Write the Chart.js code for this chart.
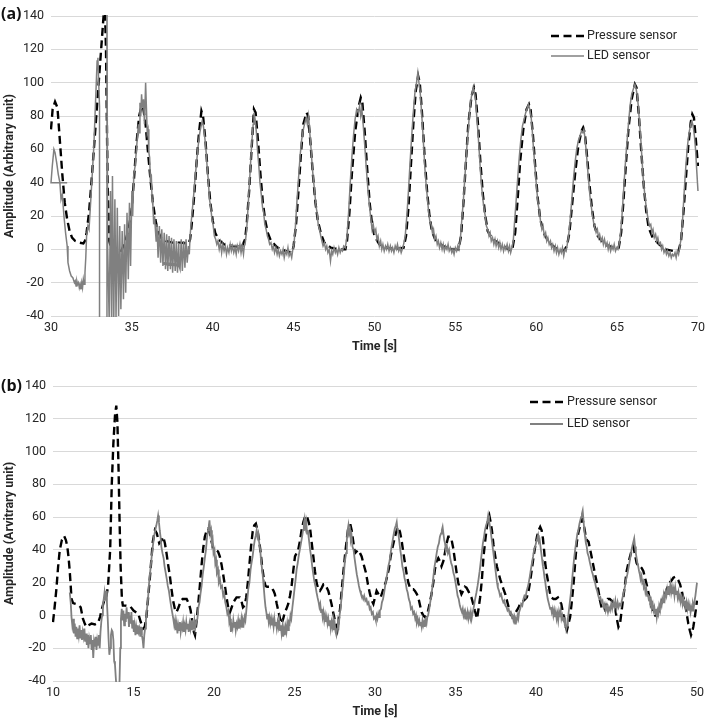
<!DOCTYPE html>
<html>
<head>
<meta charset="utf-8">
<script src="https://cdn.jsdelivr.net/npm/chart.js@4.4.1/dist/chart.umd.min.js"></script>
<style>
  body{ margin:0; background:#fff; }
  #wrap{ position:relative; width:709px; height:720px; }
  .panel{ position:absolute; left:0; }
  .tag{ position:absolute; font:bold 16px "Open Sans", sans-serif; color:#111; }
</style>
</head>
<body>
<div id="wrap">
  <div class="panel" style="top:0"><canvas id="chartA" width="709" height="356"></canvas></div>
  <div class="panel" style="top:360px"><canvas id="chartB" width="709" height="360"></canvas></div>
  <div class="tag" style="left:1px;top:2px">(a)</div>
  <div class="tag" style="left:1px;top:374px">(b)</div>
</div>
<script>
// ===== data: [time s, amplitude] =====
// panel (a)
const pressureA = [[30,72],[30.1,84],[30.25,88.5],[30.4,85],[30.55,65],[30.7,45],[30.85,28],[31,18],[31.15,11],[31.3,7],[31.5,5],[31.75,4],[32,3.5],[32.1,5],[32.2,10],[32.35,22],[32.5,40],[32.65,60],[32.8,80],[32.95,100],[33.1,120],[33.25,140],[33.32,150],[33.4,120],[33.45,80],[33.5,40],[33.6,5],[33.8,-2],[34,-3],[34.3,-2],[34.6,5],[34.8,12],[35,25],[35.15,45],[35.3,65],[35.45,80],[35.6,86],[35.7,85],[35.85,75],[36,58],[36.15,42],[36.3,28],[36.45,18],[36.6,11],[36.8,7],[37.1,5],[37.5,4],[38,4],[38.5,3.5],[38.6,6],[38.7,15],[38.85,32],[39,52],[39.15,70],[39.3,83],[39.4,80],[39.55,65],[39.7,45],[39.85,28],[40,17],[40.15,10],[40.35,6],[40.7,3],[41.2,2],[41.8,1.5],[42,6],[42.1,15],[42.25,35],[42.4,60],[42.55,84],[42.65,82],[42.8,65],[42.95,45],[43.1,28],[43.25,17],[43.4,10],[43.6,5],[44,1],[44.5,-1],[44.9,-2],[45,2],[45.15,15],[45.3,35],[45.45,57],[45.6,75],[45.8,82],[45.9,80],[46.05,63],[46.2,44],[46.35,28],[46.5,17],[46.7,9],[46.9,4],[47.3,1],[47.8,0],[48.2,0],[48.3,5],[48.45,22],[48.6,45],[48.8,70],[49,85],[49.15,91],[49.25,88],[49.4,70],[49.55,48],[49.7,28],[49.85,15],[50,8],[50.3,3],[50.8,1],[51.3,0],[51.8,1],[51.95,8],[52.1,25],[52.25,50],[52.4,75],[52.55,95],[52.7,104],[52.8,100],[52.95,80],[53.1,55],[53.25,35],[53.4,20],[53.55,11],[53.75,6],[54.2,2],[54.8,0],[55.2,0],[55.35,8],[55.5,28],[55.65,52],[55.8,75],[56,92],[56.15,97],[56.25,93],[56.4,75],[56.55,52],[56.7,33],[56.85,20],[57,11],[57.3,6],[57.8,3],[58.3,0],[58.5,-1],[58.7,10],[58.85,30],[59,52],[59.2,72],[59.4,84],[59.55,87],[59.65,84],[59.8,68],[59.95,48],[60.1,30],[60.25,18],[60.45,10],[60.8,4],[61.3,0],[61.7,-1],[61.9,2],[62.05,10],[62.2,25],[62.4,45],[62.6,62],[62.8,71],[62.9,73],[63,70],[63.15,55],[63.3,38],[63.45,24],[63.6,14],[63.8,8],[64.2,3],[64.8,1],[65.1,1],[65.25,10],[65.4,30],[65.55,52],[65.7,72],[65.9,90],[66.1,99],[66.2,97],[66.35,80],[66.5,58],[66.65,38],[66.8,23],[66.95,13],[67.2,7],[67.6,3],[68,0],[68.5,-1],[68.8,-1],[68.95,5],[69.1,22],[69.25,42],[69.4,62],[69.55,76],[69.65,81],[69.75,79],[69.85,68],[70,50]];

const ledA = [[31,40],[30,40],[30.08,50],[30.18,60],[30.25,58],[30.35,52],[30.45,45],[30.55,40],[30.62,30],[30.7,33],[30.8,20],[30.9,10],[31,2],[31.05,-8],[31.15,-13],[31.25,-16],[31.35,-17],[31.45,-20],[31.5,-19],[31.55,-22],[31.6,-19],[31.65,-21],[31.7,-20],[31.75,-23],[31.8,-21],[31.85,-24],[31.9,-20],[31.95,-23],[32,-18],[32.05,-21],[32.1,-14],[32.15,-5],[32.2,8],[32.28,14],[32.35,12],[32.45,28],[32.55,45],[32.65,62],[32.72,80],[32.8,100],[32.85,113],[32.9,115],[32.95,100],[33,86],[33,-60],[33.45,-60],[33.46,160],[33.5,2],[33.55,-20],[33.6,-45],[33.68,35],[33.75,-45],[33.8,44],[33.88,-45],[33.95,30],[34.02,-42],[34.1,25],[34.18,-40],[34.25,14],[34.32,-36],[34.4,11],[34.48,-30],[34.55,15],[34.62,-26],[34.7,22],[34.78,-18],[34.85,28],[34.92,-10],[35,35],[35.05,20],[35.12,45],[35.2,50],[35.3,62],[35.4,75],[35.45,70],[35.5,88],[35.55,80],[35.6,93],[35.65,85],[35.72,90],[35.78,75],[35.85,100],[35.9,85],[35.95,70],[36,72],[36.05,58],[36.1,55],[36.15,40],[36.2,45],[36.25,30],[36.3,26],[36.35,15],[36.4,20],[36.5,5],[36.55,15],[36.62,-5],[36.7,14],[36.78,-8],[36.85,12],[36.92,-10],[37,10],[37.08,-12],[37.15,9],[37.22,-13],[37.3,8],[37.38,-12],[37.45,7],[37.52,-14],[37.6,6],[37.68,-13],[37.75,5],[37.82,-14],[37.9,4],[37.92,-9],[37,-8],[37.02,-9],[37.92,-10],[37.98,-12],[38.05,6],[38.12,-13],[38.2,5],[38.28,-11],[38.35,6],[38.42,-8],[38.5,2],[38.55,-3],[38.6,8],[38.7,20],[38.8,30],[38.9,42],[39,52],[39.1,62],[39.2,70],[39.28,74],[39.35,77],[39.42,74],[39.5,68],[39.58,60],[39.65,50],[39.72,42],[39.8,30],[39.88,25],[39.95,18],[40.02,15],[40.1,8],[40.18,6],[40.25,3],[40.32,5],[40.4,0],[40.48,4],[40.55,-2],[40.62,3],[40.7,-1],[40.78,2],[40.85,-3],[40.92,1],[41,-2],[41.08,3],[41.15,-1],[41.22,2],[41.3,-2],[41.38,1],[41.45,-3],[41.52,2],[41.6,-1],[41.68,3],[41.75,-2],[41.82,2],[41.9,-3],[41.95,2],[41,2.5],[41.95,2],[42,3],[42.1,12],[42.2,28],[42.3,45],[42.4,62],[42.5,75],[42.55,82],[42.62,78],[42.7,70],[42.78,58],[42.85,50],[42.92,40],[43,33],[43.08,25],[43.15,22],[43.22,15],[43.3,12],[43.38,8],[43.45,6],[43.52,3],[43.6,4],[43.68,0],[43.75,2],[43.82,-2],[43.9,1],[43.98,-3],[44.05,0],[44.12,-4],[44.2,-1],[44.28,-3],[44.35,0],[44.42,-5],[44.5,-1],[44.58,-3],[44.65,1],[44.72,-4],[44.8,-2],[44.88,-5],[44.95,0],[45.02,3],[45.1,12],[45.2,28],[45.3,42],[45.4,56],[45.5,66],[45.6,72],[45.7,76],[45.78,79],[45.85,75],[45.92,80],[46,70],[46.08,60],[46.15,50],[46.22,42],[46.3,35],[46.38,26],[46.45,22],[46.52,15],[46.6,12],[46.68,8],[46.75,5],[46.82,2],[46.9,4],[46.98,0],[47.05,2],[47.12,-2],[47.2,0],[47.28,-7],[47.35,-1],[47.42,-3],[47.5,1],[47.58,-2],[47.65,0],[47.72,-3],[47.8,1],[47.88,-2],[47.95,0],[48.02,-1],[48.1,2],[48.2,1],[48.3,8],[48.4,22],[48.5,40],[48.6,55],[48.7,68],[48.8,78],[48.9,84],[49,82],[49.08,86],[49.15,80],[49.22,84],[49.3,75],[49.4,62],[49.5,48],[49.6,35],[49.7,25],[49.78,18],[49.85,12],[49.92,15],[50,10],[50.08,12],[50.15,6],[50.22,8],[50.3,2],[50.38,5],[50.45,0],[50.52,3],[50.6,-1],[50.68,2],[50.75,0],[50.82,3],[50.9,-1],[50.98,2],[51.05,-1],[51.12,1],[51.2,-2],[51.28,2],[51.35,0],[51.42,3],[51.5,-1],[51.58,1],[51.65,-2],[51.72,0],[51.8,3],[51.9,8],[52,20],[52.1,35],[52.2,52],[52.3,68],[52.4,82],[52.5,94],[52.6,100],[52.68,106],[52.75,100],[52.82,95],[52.9,84],[52.98,72],[53.05,60],[53.12,48],[53.2,38],[53.28,30],[53.35,22],[53.42,17],[53.5,15],[53.58,10],[53.65,12],[53.72,6],[53.8,8],[53.88,3],[53.95,5],[54.02,1],[54.1,4],[54.18,0],[54.25,3],[54.32,-1],[54.4,2],[54.48,0],[54.55,3],[54.62,-1],[54.7,1],[54.78,-2],[54.85,0],[54.92,-3],[55,1],[55.08,-1],[55.15,2],[55.22,0],[55.3,5],[55.4,18],[55.5,30],[55.6,45],[55.7,60],[55.8,72],[55.9,85],[56,92],[56.1,97],[56.18,94],[56.25,90],[56.32,80],[56.4,70],[56.48,58],[56.55,47],[56.62,38],[56.7,30],[56.78,24],[56.85,20],[56.92,14],[57,12],[57.08,8],[57.15,10],[57.22,5],[57.3,7],[57.38,3],[57.45,6],[57.52,2],[57.6,5],[57.68,1],[57.75,4],[57.82,0],[57.9,3],[57.98,-1],[58.05,2],[58.12,0],[58.2,3],[58.28,-1],[58.35,2],[58.42,-2],[58.5,1],[58.58,5],[58.65,15],[58.75,28],[58.85,42],[58.95,55],[59.05,66],[59.15,74],[59.25,78],[59.35,82],[59.45,85],[59.52,87],[59.6,84],[59.68,80],[59.75,72],[59.82,62],[59.9,52],[59.98,42],[60.05,34],[60.12,27],[60.2,22],[60.28,16],[60.35,12],[60.42,14],[60.5,8],[60.58,10],[60.65,5],[60.72,7],[60.8,3],[60.88,5],[60.95,1],[61.02,3],[61.1,-1],[61.18,2],[61.25,-2],[61.32,1],[61.4,-3],[61.48,0],[61.55,-2],[61.62,1],[61.7,-4],[61.78,0],[61.85,-1],[61.92,3],[62,8],[62.1,18],[62.2,30],[62.3,42],[62.4,52],[62.5,60],[62.6,65],[62.7,68],[62.8,71],[62.88,70],[62.95,72],[63.02,66],[63.1,58],[63.18,48],[63.25,40],[63.32,32],[63.4,26],[63.48,20],[63.55,16],[63.62,13],[63.7,10],[63.78,12],[63.85,7],[63.92,9],[64,5],[64.08,7],[64.15,3],[64.22,6],[64.3,2],[64.38,4],[64.45,0],[64.52,3],[64.6,-1],[64.68,2],[64.75,0],[64.82,3],[64.9,-1],[64.98,1],[65.05,0],[65.12,3],[65.2,8],[65.3,20],[65.4,35],[65.5,50],[65.6,63],[65.7,75],[65.8,86],[65.9,93],[66,96],[66.1,99],[66.18,96],[66.25,92],[66.32,85],[66.4,74],[66.48,64],[66.55,52],[66.62,42],[66.7,34],[66.78,27],[66.85,22],[66.92,18],[67,14],[67.08,15],[67.15,10],[67.22,12],[67.3,7],[67.38,9],[67.45,5],[67.52,7],[67.6,3],[67.68,4],[67.75,0],[67.82,2],[67.9,-2],[67.98,0],[68.05,-3],[68.12,-1],[68.2,-4],[68.28,-2],[68.35,-5],[68.42,-3],[68.5,-4],[68.58,-2],[68.65,-5],[68.72,-1],[68.8,-3],[68.88,2],[68.95,6],[69.05,18],[69.15,35],[69.25,50],[69.35,62],[69.45,70],[69.55,75],[69.62,77],[69.7,74],[69.78,68],[69.85,60],[69.92,48],[70,35]];

// panel (b)
const pressureB = [[10,-4],[10.1,5],[10.21,16],[10.32,30],[10.42,40],[10.55,46],[10.69,48.5],[10.8,46],[10.89,42],[10.97,35],[11.04,27],[11.1,18],[11.15,10],[11.25,7.5],[11.4,7],[11.56,6.5],[11.72,5],[11.86,-2],[11.97,-5],[12.07,-7],[12.2,-6],[12.39,-5],[12.6,-5.5],[12.8,-4.5],[12.92,-1],[13.01,3],[13.12,7],[13.22,10],[13.32,12],[13.42,18],[13.55,40],[13.65,80],[13.75,105],[13.85,122],[13.93,128],[14,118],[14.07,90],[14.13,60],[14.2,30],[14.28,10],[14.34,6],[14.5,6],[14.8,5.5],[15,3],[15.3,1],[15.45,-4],[15.6,-8],[15.7,-7],[15.8,-1],[15.9,10],[16,21],[16.1,33],[16.2,45],[16.33,52],[16.45,50],[16.6,44],[16.75,46],[16.85,48],[16.95,44],[17.05,38],[17.15,31],[17.26,24],[17.36,16],[17.46,9],[17.57,4],[17.67,2],[17.8,5],[17.9,8],[18.05,10],[18.3,10],[18.45,7],[18.55,3],[18.65,-4],[18.75,-10],[18.82,-12],[18.9,-5],[19.02,7],[19.12,18],[19.23,31],[19.33,41],[19.43,48],[19.55,52],[19.64,53],[19.75,50],[19.85,45],[19.95,41],[20.1,40],[20.25,39],[20.36,36],[20.47,31],[20.57,25],[20.68,18],[20.78,11],[20.88,5],[20.99,2],[21.1,5],[21.2,8],[21.4,11],[21.6,11],[21.7,9],[21.8,5],[21.9,6],[22,11],[22.1,20],[22.2,31],[22.3,42],[22.4,51],[22.5,55],[22.6,56],[22.7,52],[22.8,46],[22.9,38],[23,29],[23.1,22],[23.2,18],[23.3,17.5],[23.45,17.5],[23.58,17],[23.7,15],[23.78,13],[23.9,7],[23.99,3],[24.1,-2],[24.2,-5],[24.3,-2],[24.4,2],[24.5,4],[24.61,7],[24.72,12],[24.82,18],[24.92,27],[25.03,36],[25.13,38],[25.23,40],[25.33,45],[25.44,52],[25.55,57],[25.65,60],[25.75,61],[25.85,58],[25.96,54],[26.06,45],[26.17,36],[26.27,27],[26.37,20],[26.48,16],[26.58,15],[26.7,17],[26.8,19],[26.89,19],[27,17],[27.1,15],[27.2,11],[27.3,7],[27.4,2],[27.51,-3],[27.6,-7],[27.66,-9],[27.74,-3],[27.82,3],[27.92,14],[28.03,26],[28.13,36],[28.24,46],[28.32,52],[28.4,55],[28.48,55],[28.55,52],[28.65,45],[28.76,38],[28.86,39],[28.96,40],[29.07,38],[29.17,36],[29.3,31],[29.44,26],[29.56,19],[29.69,13],[29.8,9],[29.9,7],[30,11],[30.1,15],[30.22,13],[30.35,11],[30.45,14],[30.56,17.5],[30.66,20],[30.76,24],[30.87,29],[30.97,36],[31.1,42],[31.24,48],[31.35,52],[31.45,54],[31.55,51],[31.65,46],[31.75,39],[31.86,32],[31.97,25],[32.07,20],[32.17,17],[32.27,16],[32.38,16],[32.48,15],[32.6,13],[32.69,11],[32.8,6],[32.89,2],[33,0],[33.1,-1],[33.2,0],[33.3,3],[33.41,8],[33.51,13],[33.62,20],[33.72,28],[33.82,33],[33.93,35],[34.03,33],[34.13,30],[34.24,33],[34.34,38],[34.45,44],[34.55,48],[34.66,48],[34.76,46],[34.86,41],[34.96,34],[35.07,26],[35.17,20],[35.27,16],[35.37,13],[35.48,15],[35.58,17.5],[35.68,17],[35.79,15],[35.89,13],[35.99,11],[36.1,7],[36.2,3],[36.34,-2],[36.43,4],[36.53,11],[36.64,22],[36.74,36],[36.85,46],[36.95,54],[37.03,59],[37.1,61],[37.18,57],[37.26,52],[37.36,43],[37.47,36],[37.57,30],[37.67,26],[37.78,22],[37.88,19],[37.98,16],[38.09,13],[38.2,9],[38.3,5],[38.42,1],[38.54,-1],[38.67,1],[38.81,3],[38.92,5],[39.02,7],[39.12,8],[39.23,9],[39.33,10],[39.43,11],[39.54,15],[39.64,21],[39.74,28],[39.85,36],[39.95,42],[40.06,48],[40.16,52],[40.26,54],[40.35,52],[40.43,47],[40.5,40],[40.57,32],[40.67,25],[40.78,19],[40.86,14],[40.94,11],[41.09,10],[41.22,10],[41.36,11],[41.47,9],[41.57,7],[41.67,2],[41.77,-3],[41.85,-7],[41.92,-9],[42.02,-5],[42.12,-1],[42.22,8],[42.33,19],[42.43,32],[42.54,45],[42.64,51],[42.75,55],[42.82,58],[42.89,59],[42.97,55],[43.06,50],[43.16,46],[43.26,45],[43.37,40],[43.47,35],[43.57,30],[43.67,25],[43.78,20],[43.88,15],[43.98,9],[44.09,4],[44.19,3],[44.29,3],[44.38,7],[44.46,10],[44.58,10],[44.7,9],[44.8,8],[44.91,5],[45,-1],[45.12,-7],[45.22,-5],[45.32,3],[45.42,11],[45.53,19],[45.63,27],[45.74,32],[45.84,36],[45.95,40],[46.05,42],[46.15,37],[46.25,32],[46.36,30],[46.46,30],[46.56,29],[46.67,27],[46.77,23],[46.87,19],[46.98,14],[47.08,9],[47.18,5],[47.29,2],[47.4,0],[47.5,0],[47.6,2],[47.7,5],[47.8,8],[47.91,11],[48.05,14],[48.18,17.5],[48.3,20],[48.43,21.5],[48.53,23],[48.64,23.5],[48.74,23],[48.84,21.5],[48.95,19],[49.05,15],[49.15,11],[49.26,7],[49.36,1],[49.46,-5],[49.55,-9],[49.63,-12],[49.7,-10],[49.77,-7],[49.85,-2],[49.92,3],[50,9]];

const ledB = [[11.04,14],[11.1,8],[11.15,-1],[11.2,-6],[11.25,-2],[11.3,-11],[11.35,-5],[11.4,-13],[11.45,-7],[11.5,-14],[11.55,-8],[11.6,-12],[11.65,-6],[11.7,-14],[11.75,-9],[11.8,-15],[11.85,-10],[11.9,-13],[11.95,-8],[12,-16],[12.05,-11],[12.1,-18],[12.15,-12],[12.2,-20],[12.25,-14],[12.3,-17],[12.35,-12],[12.4,-21],[12.45,-15],[12.5,-26],[12.55,-16],[12.6,-19],[12.65,-13],[12.7,-21],[12.75,-15],[12.8,-18],[12.85,-12],[12.9,-20],[12.95,-10],[13,-4],[13.05,0],[13.1,7],[13.15,10],[13.2,14],[13.25,9],[13.3,15],[13.35,8],[13.4,-2],[13.45,-14],[13.5,-24],[13.55,-20],[13.6,-12],[13.65,-9],[13.7,-10],[13.75,-15],[13.8,-28],[13.85,-30],[13.9,-38],[13.95,-45],[14.05,-50],[14.12,-45],[14.18,-20],[14.22,-2],[14.27,4],[14.32,-3],[14.37,3],[14.42,-6],[14.47,1],[14.52,-4],[14.57,5],[14.62,-2],[14.67,2],[14.72,-7],[14.77,0],[14.82,-5],[14.87,2],[14.92,-8],[14.97,-3],[15.02,-10],[15.07,-6],[15.12,-12],[15.17,-7],[15.22,-11],[15.27,-6],[15.32,-10],[15.37,-8],[15.42,-13],[15.47,-7],[15.52,-12],[15.57,-15],[15.62,-20],[15.67,-12],[15.72,-8],[15.77,-3],[15.82,2],[15.9,10],[15.97,20],[16.05,28],[16.12,35],[16.2,42],[16.27,48],[16.35,52],[16.42,55],[16.48,58],[16.53,61],[16.58,57],[16.63,52],[16.68,48],[16.73,42],[16.8,38],[16.87,35],[16.93,30],[17,26],[17.07,22],[17.13,18],[17.2,15],[17.27,10],[17.33,6],[17.4,2],[17.47,-2],[17.53,-6],[17.58,-3],[17.63,-9],[17.68,-5],[17.73,-11],[17.78,-6],[17.83,-9],[17.88,-4],[17.93,-10],[17.98,-6],[18.03,-8],[18.08,-4],[18.13,-10],[18.18,-6],[18.23,-9],[18.28,-4],[18.33,-8],[18.38,-5],[18.43,-10],[18.48,-5],[18.53,-8],[18.58,-3],[18.63,-9],[18.68,-5],[18.73,-7],[18.78,-3],[18.83,-8],[18.9,-4],[18.97,-2],[19.03,5],[19.1,8],[19.17,14],[19.23,18],[19.3,25],[19.37,30],[19.43,35],[19.5,40],[19.57,48],[19.63,52],[19.68,55],[19.72,58],[19.77,50],[19.82,52],[19.87,44],[19.92,46],[19.97,38],[20.03,40],[20.08,32],[20.13,34],[20.18,26],[20.25,28],[20.3,20],[20.37,22],[20.43,17],[20.5,18],[20.57,12],[20.63,14],[20.7,8],[20.77,5],[20.83,1],[20.9,3],[20.95,-4],[21,-2],[21.05,-10],[21.1,-6],[21.15,-8],[21.2,-3],[21.25,-7],[21.3,-4],[21.35,-9],[21.4,-5],[21.45,-7],[21.5,-3],[21.55,-8],[21.6,-4],[21.65,-6],[21.7,-2],[21.75,-7],[21.8,-3],[21.85,-5],[21.9,-1],[21.95,-3],[22,2],[22.07,10],[22.13,16],[22.2,20],[22.27,28],[22.33,32],[22.4,36],[22.47,42],[22.53,46],[22.6,49],[22.65,52],[22.7,48],[22.75,50],[22.8,45],[22.87,40],[22.93,33],[23,27],[23.05,22],[23.1,16],[23.15,10],[23.2,5],[23.25,2],[23.3,-2],[23.35,1],[23.4,-4],[23.45,-1],[23.5,-5],[23.55,-2],[23.6,-6],[23.65,-3],[23.7,-7],[23.75,-2],[23.8,-6],[23.85,-4],[23.9,-8],[23.95,-4],[24,-7],[24.05,-3],[24.1,-9],[24.15,-6],[24.2,-11],[24.25,-7],[24.3,-13],[24.35,-8],[24.4,-12],[24.45,-7],[24.5,-10],[24.55,-5],[24.6,-9],[24.65,-4],[24.7,-5],[24.75,0],[24.8,-2],[24.87,5],[24.93,10],[25,16],[25.07,22],[25.13,28],[25.2,32],[25.27,37],[25.33,40],[25.4,44],[25.47,48],[25.53,52],[25.58,56],[25.63,59],[25.68,54],[25.73,57],[25.78,50],[25.83,52],[25.9,46],[25.97,40],[26.03,36],[26.1,30],[26.17,25],[26.23,21],[26.3,18],[26.37,14],[26.43,11],[26.5,8],[26.55,5],[26.6,7],[26.65,2],[26.7,4],[26.75,-1],[26.8,2],[26.85,-3],[26.9,0],[26.95,-4],[27,-1],[27.05,-5],[27.1,-2],[27.15,-6],[27.2,-3],[27.25,-8],[27.3,-4],[27.35,-7],[27.4,-3],[27.45,-9],[27.5,-5],[27.55,-10],[27.6,-12],[27.65,-8],[27.7,-4],[27.75,-6],[27.8,0],[27.87,5],[27.93,12],[28,18],[28.07,26],[28.13,33],[28.2,38],[28.25,46],[28.3,52],[28.35,55],[28.4,50],[28.45,52],[28.5,46],[28.55,48],[28.6,42],[28.67,40],[28.73,35],[28.8,30],[28.87,25],[28.93,22],[29,18],[29.07,15],[29.13,13],[29.2,12],[29.27,10],[29.33,12],[29.4,9],[29.47,10],[29.53,7],[29.6,8],[29.67,4],[29.73,5],[29.8,1],[29.87,2],[29.93,-2],[30,-1],[30.05,-3],[30.1,0],[30.15,-2],[30.2,1],[30.25,-1],[30.3,3],[30.37,4],[30.43,8],[30.5,10],[30.57,14],[30.63,18],[30.7,22],[30.77,26],[30.83,30],[30.9,33],[30.97,38],[31.03,42],[31.1,46],[31.17,50],[31.23,53],[31.3,55],[31.35,57],[31.4,52],[31.45,50],[31.5,46],[31.57,40],[31.63,36],[31.7,30],[31.77,27],[31.83,23],[31.9,20],[31.97,16],[32.03,14],[32.1,10],[32.17,8],[32.23,4],[32.3,5],[32.37,1],[32.43,2],[32.5,-2],[32.55,0],[32.6,-4],[32.65,-2],[32.7,-5],[32.75,-3],[32.8,-6],[32.85,-4],[32.9,-7],[32.95,-3],[33,-6],[33.05,-4],[33.1,-7],[33.15,-3],[33.2,-5],[33.25,-1],[33.3,0],[33.37,4],[33.43,8],[33.5,12],[33.57,18],[33.63,24],[33.7,30],[33.77,34],[33.83,38],[33.9,42],[33.97,44],[34.03,48],[34.1,50],[34.15,52],[34.2,54],[34.25,50],[34.3,46],[34.35,44],[34.4,40],[34.47,42],[34.53,38],[34.6,40],[34.67,35],[34.73,32],[34.8,30],[34.87,26],[34.93,24],[35,20],[35.07,16],[35.13,12],[35.2,10],[35.27,6],[35.33,4],[35.4,2],[35.45,4],[35.5,0],[35.55,2],[35.6,-2],[35.65,1],[35.7,-1],[35.75,2],[35.8,-2],[35.85,1],[35.9,-1],[35.95,2],[36,-2],[36.05,1],[36.1,3],[36.15,6],[36.22,10],[36.3,14],[36.37,18],[36.43,22],[36.5,27],[36.57,33],[36.63,38],[36.7,44],[36.77,48],[36.83,52],[36.9,55],[36.97,57],[37.03,61],[37.08,58],[37.13,55],[37.18,52],[37.23,48],[37.28,44],[37.33,40],[37.38,36],[37.43,32],[37.48,28],[37.53,24],[37.58,20],[37.63,17],[37.7,15],[37.77,12],[37.83,13],[37.9,10],[37.97,8],[38.03,9],[38.1,6],[38.17,5],[38.23,3],[38.3,4],[38.37,1],[38.43,2],[38.5,-1],[38.55,0],[38.6,-3],[38.65,-1],[38.7,-5],[38.75,-2],[38.8,-3],[38.85,0],[38.9,-2],[38.95,2],[39.02,4],[39.08,7],[39.15,6],[39.22,10],[39.28,12],[39.35,11],[39.42,15],[39.48,17],[39.55,20],[39.62,24],[39.68,28],[39.75,32],[39.82,36],[39.88,40],[39.95,42],[40.02,45],[40.08,47],[40.13,49],[40.18,45],[40.23,46],[40.28,42],[40.33,38],[40.38,34],[40.43,30],[40.48,27],[40.53,23],[40.58,20],[40.63,16],[40.68,13],[40.73,10],[40.78,8],[40.83,6],[40.88,4],[40.93,5],[40.98,2],[41.03,4],[41.08,0],[41.13,3],[41.18,-1],[41.23,2],[41.28,-2],[41.33,1],[41.38,-3],[41.43,2],[41.48,-1],[41.53,3],[41.58,-2],[41.63,0],[41.68,-3],[41.73,-1],[41.78,-5],[41.83,-3],[41.88,-8],[41.93,-6],[41.98,-2],[42.03,2],[42.1,8],[42.17,14],[42.23,20],[42.3,28],[42.37,35],[42.43,40],[42.5,45],[42.57,50],[42.63,52],[42.7,56],[42.75,58],[42.8,60],[42.85,62],[42.9,64],[42.95,58],[43,52],[43.05,48],[43.1,44],[43.15,42],[43.2,38],[43.27,36],[43.33,33],[43.4,30],[43.47,27],[43.53,25],[43.6,22],[43.67,20],[43.73,17],[43.8,15],[43.87,12],[43.93,10],[44,11],[44.07,8],[44.13,9],[44.2,5],[44.27,7],[44.33,3],[44.4,6],[44.47,2],[44.53,5],[44.6,3],[44.67,7],[44.73,4],[44.8,8],[44.87,5],[44.93,9],[45,4],[45.07,8],[45.13,5],[45.2,7],[45.27,6],[45.33,9],[45.4,12],[45.47,15],[45.53,18],[45.6,22],[45.67,25],[45.73,28],[45.8,32],[45.87,36],[45.93,40],[46,43],[46.05,45],[46.1,47],[46.15,42],[46.2,38],[46.25,35],[46.3,32],[46.35,30],[46.4,27],[46.45,25],[46.5,22],[46.55,24],[46.6,20],[46.65,21],[46.7,17],[46.75,18],[46.8,14],[46.85,16],[46.9,12],[46.95,13],[47,10],[47.05,11],[47.1,7],[47.15,9],[47.2,5],[47.25,7],[47.3,3],[47.35,5],[47.4,1],[47.45,4],[47.5,-1],[47.55,3],[47.6,1],[47.65,6],[47.7,4],[47.75,8],[47.8,6],[47.85,10],[47.9,8],[47.95,12],[48,10],[48.05,14],[48.1,12],[48.15,16],[48.2,13],[48.25,18],[48.3,15],[48.35,19],[48.4,14],[48.45,17],[48.5,13],[48.55,16],[48.6,12],[48.65,17],[48.7,13],[48.75,15],[48.8,11],[48.85,14],[48.9,10],[48.95,12],[49,9],[49.05,11],[49.1,7],[49.15,10],[49.2,6],[49.25,9],[49.3,5],[49.35,8],[49.4,4],[49.45,7],[49.5,3],[49.55,6],[49.6,2],[49.65,5],[49.7,3],[49.75,7],[49.8,5],[49.85,9],[49.9,12],[49.95,16],[50,20]];

// axis ranges / tick steps
const rangeA = { xMin:30, xMax:70, xStep:5 };
const rangeB = { xMin:10, xMax:50, xStep:5 };
const yRange = { min:-40, max:140, step:20 };
const seriesNames = ['Pressure sensor', 'LED sensor'];
const yTitles = ['Amplitude (Arbitrary unit)', 'Amplitude (Arvitrary unit)'];

const FONT = 'Roboto';
const TXT = '#262626';
const toXY = arr => arr.map(p => ({ x:p[0], y:p[1] }));

// legend drawn inside the plot, Excel style
const legendBox = {
  id:'legendBox',
  afterDraw(chart, args, o){
    const ctx = chart.ctx;
    chart.data.datasets.forEach((ds,i)=>{
      const y = o.y + i*o.rowGap;
      ctx.save();
      ctx.strokeStyle = ds.borderColor; ctx.lineWidth = ds.borderWidth;
      ctx.setLineDash(ds.borderDash || []);
      ctx.beginPath(); ctx.moveTo(o.x, y); ctx.lineTo(o.x+o.len, y); ctx.stroke();
      ctx.setLineDash([]);
      ctx.fillStyle = TXT; ctx.font = `12.5px ${FONT}`; ctx.textBaseline = 'middle';
      ctx.fillText(ds.label, o.x+o.len+o.pad, y);
      ctx.restore();
    });
  }
};

function makeChart(id, pressure, led, range, yTitle, lay, leg, ledWidth){
  return new Chart(document.getElementById(id).getContext('2d'), {
    type:'line',
    data:{ datasets:[
      { label:seriesNames[0], data:toXY(pressure), borderColor:'#000', borderWidth:2.4, borderDash:[8,4.5], pointRadius:0, tension:0, order:1, clip:1 },
      { label:seriesNames[1], data:toXY(led), borderColor:'#808080', borderWidth:ledWidth, pointRadius:0, tension:0, order:0, clip:1 }
    ]},
    options:{
      responsive:false, animation:false, events:[],
      layout:{ padding:{ left:0, right:lay.right, top:lay.top, bottom:0 } },
      plugins:{ legend:{ display:false }, tooltip:{ enabled:false }, legendBox:leg },
      scales:{
        x:{ type:'linear', min:range.xMin, max:range.xMax,
            ticks:{ stepSize:range.xStep, padding:4, color:TXT, font:{ family:FONT, size:12.5 }, maxRotation:0 },
            grid:{ display:false, drawTicks:false }, border:{ display:false },
            title:{ display:true, text:'Time [s]', color:TXT, font:{ family:FONT, size:12.5, weight:'bold' }, padding:{ top:0, bottom:lay.titleBottom } },
            afterFit:s=>{ s.height = lay.xH; } },
        y:{ min:yRange.min, max:yRange.max,
            ticks:{ stepSize:yRange.step, padding:7, color:TXT, font:{ family:FONT, size:12.5 } },
            grid:{ color:'#d9d9d9', lineWidth:1, drawTicks:false }, border:{ display:false },
            title:{ display:true, text:yTitle, color:TXT, font:{ family:FONT, size:12.5, weight:'bold' }, padding:{ top:2, bottom:0 } },
            afterFit:s=>{ s.width = lay.yW; } }
      }
    },
    plugins:[legendBox]
  });
}

makeChart('chartA', pressureA, ledA, rangeA, yTitles[0],
  { right:8, top:16, xH:40, yW:51, titleBottom:2 },
  { x:551, y:36, rowGap:20, len:33, pad:3 }, 1.5);
makeChart('chartB', pressureB, ledB, rangeB, yTitles[1],
  { right:12, top:26, xH:39, yW:53, titleBottom:1 },
  { x:530, y:42, rowGap:22, len:33, pad:4 }, 1.8);
</script>
</body>
</html>
